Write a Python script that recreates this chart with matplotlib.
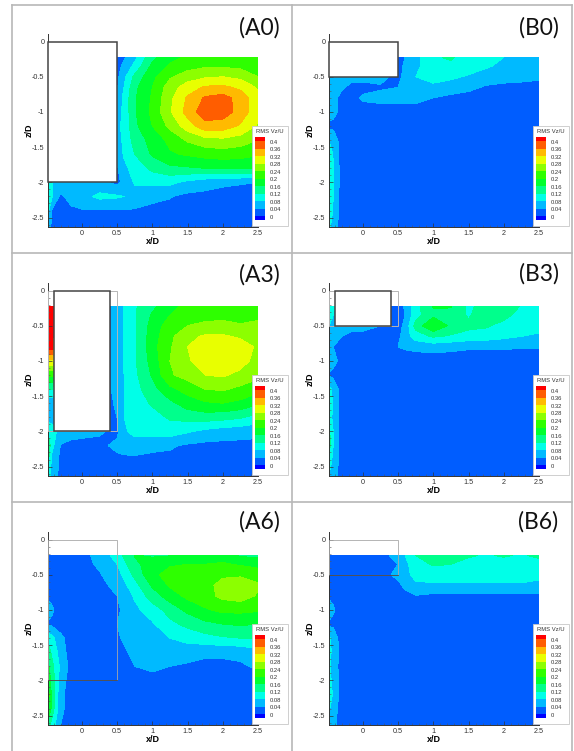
import numpy as np
import matplotlib
matplotlib.use('Agg')
import matplotlib.pyplot as plt
from matplotlib.patches import Rectangle
from matplotlib.lines import Line2D

plt.rcParams['font.family'] = ['Liberation Sans', 'DejaVu Sans']

W, H = 574, 751

# grid of the measurement plane
x = [-0.48, -0.42, -0.3, -0.15, 0, 0.25, 0.5, 0.6, 0.75, 1, 1.25, 1.5, 1.75, 2, 2.25, 2.5]
z = [-0.225, -0.35, -0.5, -0.65, -0.8, -1, -1.2, -1.4, -1.6, -1.8, -2, -2.2, -2.4, -2.63]

levels = [0, 0.04, 0.08, 0.12, 0.16, 0.2, 0.24, 0.28, 0.32, 0.36, 0.4]
level_labels = ['0', '0.04', '0.08', '0.12', '0.16', '0.2', '0.24', '0.28', '0.32', '0.36', '0.4']
colors = ['#0000ff', '#005dff', '#00baff', '#00ffe8', '#00ff8c', '#00ff2e',
          '#2eff00', '#8cff00', '#e8ff00', '#ffba00', '#ff5d00', '#ff0000']

# RMS Vz/U
A0 = [
    [.03, .03, .03, .03, .03, .03, .02, .035, .07, .15, .19, .205, .21, .215, .215, .2],
    [.03, .03, .03, .03, .03, .03, .025, .05, .09, .17, .205, .225, .235, .235, .23, .21],
    [.03, .03, .03, .03, .03, .03, .03, .07, .13, .19, .235, .26, .275, .28, .27, .24],
    [.03, .03, .03, .03, .03, .03, .035, .08, .15, .2, .26, .30, .325, .33, .31, .275],
    [.03, .03, .03, .03, .03, .03, .05, .09, .155, .205, .27, .325, .365, .375, .345, .29],
    [.03, .03, .03, .03, .03, .03, .06, .09, .155, .21, .275, .335, .385, .38, .345, .29],
    [.03, .03, .03, .03, .03, .03, .07, .09, .15, .2, .25, .3, .345, .34, .315, .275],
    [.03, .03, .03, .03, .03, .03, .06, .09, .135, .175, .21, .245, .265, .27, .26, .24],
    [.03, .03, .03, .03, .03, .03, .05, .085, .12, .165, .195, .205, .215, .22, .215, .205],
    [.03, .03, .03, .03, .03, .03, .035, .07, .095, .13, .15, .155, .16, .165, .165, .16],
    [.1, .08, .075, .07, .07, .05, .03, .05, .085, .09, .09, .07, .055, .045, .042, .04],
    [.11, .08, .03, .06, .065, .09, .085, .08, .06, .05, .042, .03, .03, .03, .03, .03],
    [.09, .035, .03, .03, .037, .038, .038, .038, .037, .03, .03, .03, .03, .03, .03, .03],
    [.06, .03, .025, .025, .025, .025, .025, .025, .025, .025, .025, .025, .025, .025, .025, .025],
]
B0 = [
    [.03, .03, .03, .03, .03, .03, .03, .04, .065, .115, .125, .10, .09, .08, .065, .06],
    [.03, .03, .03, .03, .03, .03, .03, .045, .07, .105, .11, .10, .085, .07, .06, .055],
    [.07, .07, .05, .05, .05, .05, .03, .05, .08, .095, .088, .075, .06, .055, .05, .045],
    [.07, .06, .045, .03, .03, .036, .04, .06, .08, .07, .06, .05, .035, .03, .03, .03],
    [.06, .05, .03, .03, .045, .05, .05, .05, .05, .04, .03, .025, .025, .025, .025, .025],
    [.06, .05, .03, .025, .025, .025, .025, .025, .025, .025, .025, .025, .025, .025, .025, .025],
    [.03, .03, .02, .02, .02, .02, .02, .02, .02, .02, .02, .02, .02, .02, .02, .02],
    [.08, .065, .02, .02, .02, .02, .02, .02, .02, .02, .02, .02, .02, .02, .02, .02],
    [.11, .075, .02, .02, .02, .02, .02, .02, .02, .02, .02, .02, .02, .02, .02, .02],
    [.13, .085, .02, .02, .02, .02, .02, .02, .02, .02, .02, .02, .02, .02, .02, .02],
    [.13, .085, .02, .02, .02, .02, .02, .02, .02, .02, .02, .02, .02, .02, .02, .02],
    [.12, .08, .02, .02, .02, .02, .02, .02, .02, .02, .02, .02, .02, .02, .02, .02],
    [.11, .075, .02, .02, .02, .02, .02, .02, .02, .02, .02, .02, .02, .02, .02, .02],
    [.09, .06, .02, .02, .02, .02, .02, .02, .02, .02, .02, .02, .02, .02, .02, .02],
]
A3 = [
    [.44, .44, .03, .03, .03, .02, .05, .085, .115, .15, .19, .21, .215, .215, .205, .2],
    [.44, .44, .03, .03, .03, .02, .05, .085, .115, .165, .2, .22, .225, .225, .22, .23],
    [.44, .44, .03, .03, .03, .02, .05, .085, .115, .175, .22, .24, .25, .255, .245, .25],
    [.44, .44, .03, .03, .03, .02, .05, .085, .115, .18, .23, .27, .285, .285, .275, .265],
    [.42, .42, .03, .03, .03, .02, .05, .085, .11, .185, .235, .28, .31, .305, .295, .275],
    [.31, .31, .03, .03, .03, .02, .05, .085, .115, .175, .24, .275, .30, .31, .295, .265],
    [.21, .21, .03, .03, .03, .02, .05, .08, .11, .165, .235, .255, .28, .285, .27, .25],
    [.12, .12, .03, .03, .03, .02, .05, .08, .105, .145, .19, .215, .24, .245, .23, .215],
    [.05, .05, .03, .03, .03, .02, .045, .08, .1, .125, .15, .18, .195, .2, .19, .165],
    [.06, .06, .03, .03, .03, .02, .04, .08, .09, .105, .125, .135, .14, .135, .125, .105],
    [.12, .1, .06, .055, .05, .045, .03, .075, .09, .1, .1, .085, .07, .06, .055, .05],
    [.15, .09, .038, .03, .03, .03, .05, .06, .065, .05, .045, .035, .03, .03, .03, .03],
    [.13, .065, .03, .03, .03, .03, .03, .03, .03, .03, .03, .03, .03, .03, .03, .03],
    [.1, .06, .03, .025, .025, .025, .025, .025, .025, .025, .025, .025, .025, .025, .025, .025],
]
B3 = [
    [.1, .09, .03, .03, .03, .02, .02, .045, .105, .163, .163, .11, .14, .16, .115, .1],
    [.09, .08, .03, .03, .03, .02, .02, .04, .105, .15, .145, .115, .145, .135, .1, .095],
    [.08, .07, .05, .05, .05, .04, .025, .05, .135, .2, .15, .13, .125, .105, .095, .09],
    [.07, .055, .04, .03, .03, .03, .03, .06, .1, .125, .115, .105, .1, .09, .08, .075],
    [.06, .04, .03, .02, .02, .02, .04, .045, .05, .055, .05, .045, .045, .045, .042, .042],
    [.06, .05, .03, .02, .02, .02, .02, .02, .02, .02, .02, .02, .02, .02, .02, .02],
    [.035, .03, .02, .02, .02, .02, .02, .02, .02, .02, .02, .02, .02, .02, .02, .02],
    [.09, .07, .02, .02, .02, .02, .02, .02, .02, .02, .02, .02, .02, .02, .02, .02],
    [.11, .075, .02, .02, .02, .02, .02, .02, .02, .02, .02, .02, .02, .02, .02, .02],
    [.10, .07, .02, .02, .02, .02, .02, .02, .02, .02, .02, .02, .02, .02, .02, .02],
    [.13, .08, .02, .02, .02, .02, .02, .02, .02, .02, .02, .02, .02, .02, .02, .02],
    [.14, .08, .02, .02, .02, .02, .02, .02, .02, .02, .02, .02, .02, .02, .02, .02],
    [.10, .07, .02, .02, .02, .02, .02, .02, .02, .02, .02, .02, .02, .02, .02, .02],
    [.08, .06, .02, .02, .02, .02, .02, .02, .02, .02, .02, .02, .02, .02, .02, .02],
]
A6 = [
    [.03, .03, .03, .03, .03, .05, .10, .125, .162, .155, .158, .175, .185, .18, .155, .15],
    [.03, .03, .03, .03, .03, .045, .08, .11, .15, .18, .195, .2, .2, .205, .195, .185],
    [.03, .03, .03, .03, .03, .037, .06, .09, .13, .19, .215, .225, .225, .235, .235, .225],
    [.03, .03, .03, .03, .03, .03, .05, .07, .105, .165, .205, .225, .23, .25, .26, .245],
    [.03, .03, .03, .03, .03, .025, .04, .06, .085, .14, .18, .21, .225, .25, .26, .235],
    [.06, .045, .02, .02, .02, .02, .03, .05, .07, .10, .135, .17, .195, .21, .21, .205],
    [.035, .03, .02, .02, .02, .02, .04, .045, .06, .075, .11, .13, .15, .16, .165, .16],
    [.11, .09, .05, .02, .02, .02, .035, .045, .055, .065, .08, .095, .105, .115, .12, .125],
    [.14, .11, .06, .02, .02, .02, .03, .035, .05, .06, .06, .055, .048, .048, .05, .065],
    [.17, .13, .07, .025, .02, .02, .02, .03, .04, .05, .04, .035, .03, .03, .035, .045],
    [.19, .14, .06, .02, .02, .02, .02, .02, .025, .025, .025, .025, .025, .025, .025, .025],
    [.22, .14, .05, .02, .02, .02, .02, .02, .02, .02, .02, .02, .02, .02, .02, .02],
    [.21, .14, .05, .02, .02, .02, .02, .02, .02, .02, .02, .02, .02, .02, .02, .02],
    [.14, .10, .04, .02, .02, .02, .02, .02, .02, .02, .02, .02, .02, .02, .02, .02],
]
B6 = [
    [.03, .03, .03, .03, .03, .03, .05, .08, .12, .16, .135, .125, .115, .125, .115, .13],
    [.03, .03, .03, .03, .03, .025, .04, .07, .1, .125, .12, .105, .1, .1, .1, .1],
    [.03, .03, .03, .03, .03, .025, .05, .065, .095, .095, .095, .095, .095, .095, .095, .09],
    [.03, .03, .03, .03, .03, .02, .03, .05, .07, .075, .075, .075, .075, .075, .075, .07],
    [.03, .03, .02, .02, .02, .02, .02, .025, .038, .03, .03, .03, .03, .03, .03, .03],
    [.07, .045, .02, .02, .02, .02, .02, .02, .02, .02, .02, .02, .02, .02, .02, .02],
    [.03, .03, .02, .02, .02, .02, .02, .02, .02, .02, .02, .02, .02, .02, .02, .02],
    [.09, .065, .02, .02, .02, .02, .02, .02, .02, .02, .02, .02, .02, .02, .02, .02],
    [.09, .07, .02, .02, .02, .02, .02, .02, .02, .02, .02, .02, .02, .02, .02, .02],
    [.085, .065, .02, .02, .02, .02, .02, .02, .02, .02, .02, .02, .02, .02, .02, .02],
    [.09, .07, .02, .02, .02, .02, .02, .02, .02, .02, .02, .02, .02, .02, .02, .02],
    [.1, .075, .02, .02, .02, .02, .02, .02, .02, .02, .02, .02, .02, .02, .02, .02],
    [.085, .06, .02, .02, .02, .02, .02, .02, .02, .02, .02, .02, .02, .02, .02, .02],
    [.06, .05, .02, .02, .02, .02, .02, .02, .02, .02, .02, .02, .02, .02, .02, .02],
]

fig = plt.figure(figsize=(W / 100, H / 100), dpi=100)


def box(left, top, right, bottom):
    # pixel box of the reference to figure fractions
    return [left / W, 1 - bottom / H, (right - left) / W, (bottom - top) / H]


def panel(name, data, left, top, title_x, title_y, block=None, ghost=False, block_fill=True):
    bottom = top + 192.5
    ax = fig.add_axes(box(left, top, left + 210, bottom))
    ax.contourf(x, z, data, levels=levels, colors=colors, extend='both')
    ax.set_xlim(-0.48, 2.5)
    ax.set_ylim(-2.63, 0.105)
    ax.patch.set_alpha(0)
    for s in ['top', 'right']:
        ax.spines[s].set_visible(False)
    for s in ['left', 'bottom']:
        ax.spines[s].set_linewidth(0.7)
        ax.spines[s].set_color('#333333')
    ax.set_xticks([0, 0.5, 1, 1.5, 2, 2.5], ['0', '0.5', '1', '1.5', '2', '2.5'])
    ax.set_yticks([0, -0.5, -1, -1.5, -2, -2.5], ['0', '-0.5', '-1', '-1.5', '-2', '-2.5'])
    ax.set_xticks(np.arange(-0.4, 2.5, 0.1), minor=True)
    ax.set_yticks(np.arange(-2.6, 0.01, 0.1), minor=True)
    ax.tick_params(which='major', direction='in', length=3.2, width=0.5, labelsize=5.2,
                   labelcolor='#333333', color='#333333', pad=2.5)
    ax.tick_params(which='minor', direction='in', length=1.6, width=0.4, color='#555555')
    ax.set_xlabel('x/D', fontsize=6.5, fontweight='bold', labelpad=0)
    ax.set_ylabel('z/D', fontsize=6.5, fontweight='bold', labelpad=-1)

    if ghost:
        ax.add_patch(Rectangle((-0.48, -block), 0.98, block, fill=False, ec='#b5b5b5', lw=0.7, clip_on=False, zorder=4))
    if block_fill:
        x0 = -0.4 if ghost else -0.48
        ax.add_patch(Rectangle((x0, -block), 0.4 - x0 if ghost else 0.98, block, fc='white', ec='#444444',
                               lw=1.1, clip_on=False, zorder=5))
    elif block:
        ax.add_patch(Rectangle((-0.48, -block), 0.98, block, fill=False, ec='#a8a8a8', lw=0.6, clip_on=False, zorder=4))
        ax.plot([-0.48, 0.5], [-block, -block], color='#333333', lw=0.5, zorder=4)

    fig.text(title_x / W, 1 - title_y / H, name, fontsize=16.5, family=['Lato', 'DejaVu Sans'],
             color='#111111', ha='center', va='center')

    # contour legend, sits over the lower right corner
    lx, ly = left + 204, top + 92
    fig.add_artist(Rectangle((lx / W, 1 - (ly + 100) / H), 36 / W, 100 / H, transform=fig.transFigure,
                             fc='white', ec='#c8c8c8', lw=0.6, zorder=6))
    fig.text((lx + 17.5) / W, 1 - (ly + 5) / H, 'RMS Vz/U', fontsize=4.2, ha='center', va='center',
             color='#333333', zorder=7)
    leg = fig.add_axes(box(lx + 3, ly + 11, lx + 12.5, ly + 94), zorder=7)
    edges = [-0.02] + levels + [0.42]
    for lo, hi, c in zip(edges[:-1], edges[1:], colors):
        leg.bar(0, hi - lo, bottom=lo, width=1, color=c, linewidth=0)
    leg.set_xlim(-0.5, 0.5)
    leg.set_ylim(-0.02, 0.42)
    leg.axis('off')
    for v, lab in zip(levels, level_labels):
        fig.text((lx + 18) / W, 1 - (ly + 91 - v / 0.04 * 7.5) / H, lab, fontsize=4.2, va='center',
                 color='#333333', zorder=7)
    return ax


panel('(A0)', A0, 48, 34.2, 259, 28, block=2)
panel('(B0)', B0, 329, 34.2, 539, 28, block=0.5)
panel('(A3)', A3, 48, 283.2, 259, 275, block=2, ghost=True)
panel('(B3)', B3, 329, 283.2, 539, 274, block=0.5, ghost=True)
panel('(A6)', A6, 48, 532.2, 259, 522, block=2, block_fill=False)
panel('(B6)', B6, 329, 532.2, 538, 522, block=0.5, block_fill=False)

# table lines around the panels
frame = '#b8b8b8'
for y_px in [4.5, 253, 502]:
    fig.add_artist(Line2D([12 / W, 572 / W], [1 - y_px / H] * 2, color=frame, lw=1.2))
for x_px in [12, 292, 572]:
    fig.add_artist(Line2D([x_px / W] * 2, [1 - 4.5 / H, 0], color=frame, lw=1.2))

fig.savefig('out.png', dpi=100)
